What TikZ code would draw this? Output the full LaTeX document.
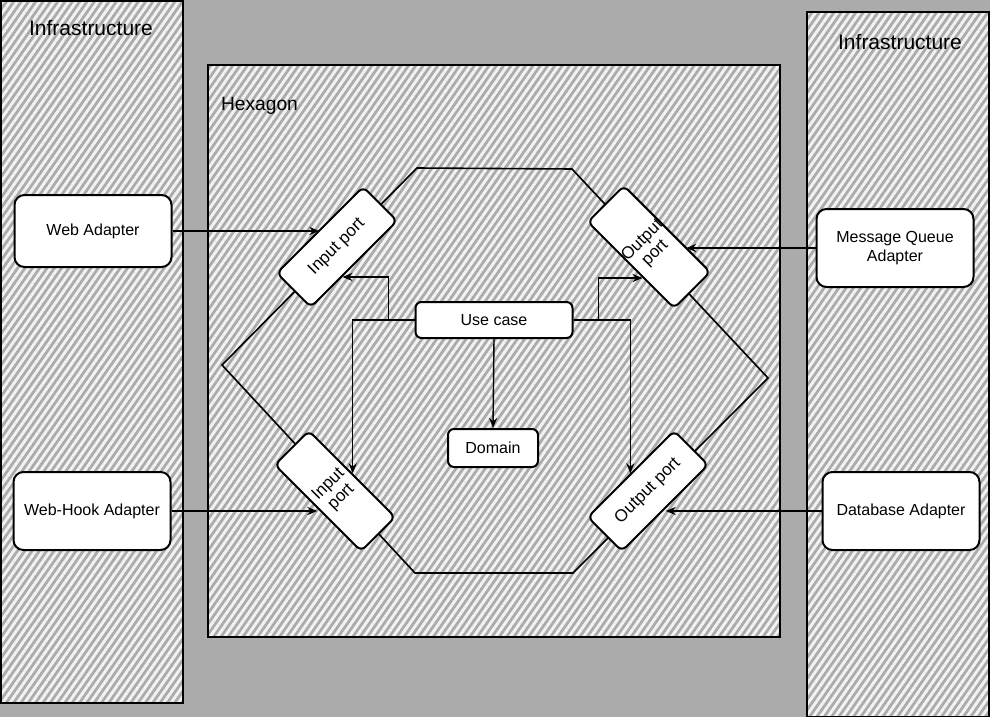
\documentclass[tikz,border=0pt]{standalone}
\usepackage{fontspec}
\setmainfont{Liberation Sans}
\usetikzlibrary{arrows.meta,calc,patterns.meta}
\definecolor{canvasgray}{HTML}{ABABAB}
\definecolor{hatchlight}{HTML}{F2F2F2}
\tikzset{
  hatched/.style    = {draw=black, line width=0.8pt, preaction={fill=canvasgray},
                       pattern={Lines[angle=55,distance=3pt,line width=1.5pt]},
                       pattern color=hatchlight},
  adapter/.style    = {rectangle, rounded corners=5pt, draw=black, line width=1pt,
                       fill=white, align=center, font=\fontsize{8}{9.5}\selectfont,
                       minimum width=78.5pt, minimum height=39pt},
  port/.style       = {rectangle, rounded corners=3pt, draw=black, line width=1pt,
                       fill=white, align=center, font=\fontsize{8.5}{9}\selectfont,
                       rotate=45, inner sep=0pt},
  portlong/.style   = {port, minimum width=61pt, minimum height=24pt},
  portwide/.style   = {port, minimum width=24pt, minimum height=61pt},
  core/.style       = {rectangle, rounded corners=3pt, draw=black, line width=1pt,
                       fill=white, font=\fontsize{8}{9.5}\selectfont},
  flow/.style       = {-{Stealth[length=5pt,width=4pt]}, draw=black, line width=0.7pt},
  paneltitle/.style = {font=\fontsize{10.5}{13}\selectfont},
}

\begin{document}
\begin{tikzpicture}[x=0.5pt,y=-0.5pt]
  \fill[canvasgray] (0,0) rectangle (990,717);
  \useasboundingbox (0,0) rectangle (990,717);

  % infrastructure columns and the hexagon frame
  \path[hatched] (1,1) rectangle (183,703);
  \path[hatched] (807,12) rectangle (989,717);
  \path[hatched, line width=0.6pt] (208,65) rectangle (780,637);
  \draw[line width=0.8pt] (417,168) -- (572,169) -- (768,378) -- (573,573)
        -- (415,573) -- (222,365) -- cycle;

  \node[paneltitle] (infraL) at (91,28)  {Infrastructure};
  \node[paneltitle] (infraR) at (900,42) {Infrastructure};
  \node[font=\fontsize{9.6}{11}\selectfont, anchor=west] (hexlbl) at (214,106) {Hexagon};

  \node[adapter, minimum height=36pt] (web) at (93,231)  {Web Adapter};
  \node[adapter] (hook) at (92,511)  {Web-Hook Adapter};
  \node[adapter] (mq)   at (895,248) {Message Queue\\Adapter};
  \node[adapter] (db)   at (901,511) {Database Adapter};

  \node[portlong] (inTL)  at (337,247) {Input port};
  \node[portwide] (outTR) at (649,247) {Output\\port};
  \node[portwide] (inBL)  at (335,491) {Input\\port};
  \node[portlong] (outBR) at (648,491) {Output port};

  \node[core, minimum width=78.5pt, minimum height=18pt] (uc)  at (494,320) {Use case};
  \node[core, minimum width=45pt, minimum height=19pt]   (dom) at (493,448) {Domain};

  \coordinate (tlHit) at ($(inTL.south east)!.64!(inTL.south west)$);
  \coordinate (trHit) at ($(outTR.south west)!.36!(outTR.north west)$);
  \coordinate (mqHit) at ($(outTR.north east)!.71!(outTR.south east)$);

  \draw[flow] (web.east) -- (web.east -| inTL.north);
  \draw[flow] (hook.east) -- (hook.east -| inBL.west);
  \draw[flow] (mq.west) -- (mq.west -| mqHit);
  \draw[flow] (db.west) -- (db.west -| outBR.south);
  \draw[flow] (uc.west) -- ++(-26,0) |- (tlHit);
  \draw[flow] (uc.west) -| (inBL.east);
  \draw[flow] (uc.east) -- ++(25,0) |- (trHit);
  \draw[flow] (uc.east) -| (outBR.north);
  \draw[flow] (uc.south) -- (dom.north);
\end{tikzpicture}
\end{document}
